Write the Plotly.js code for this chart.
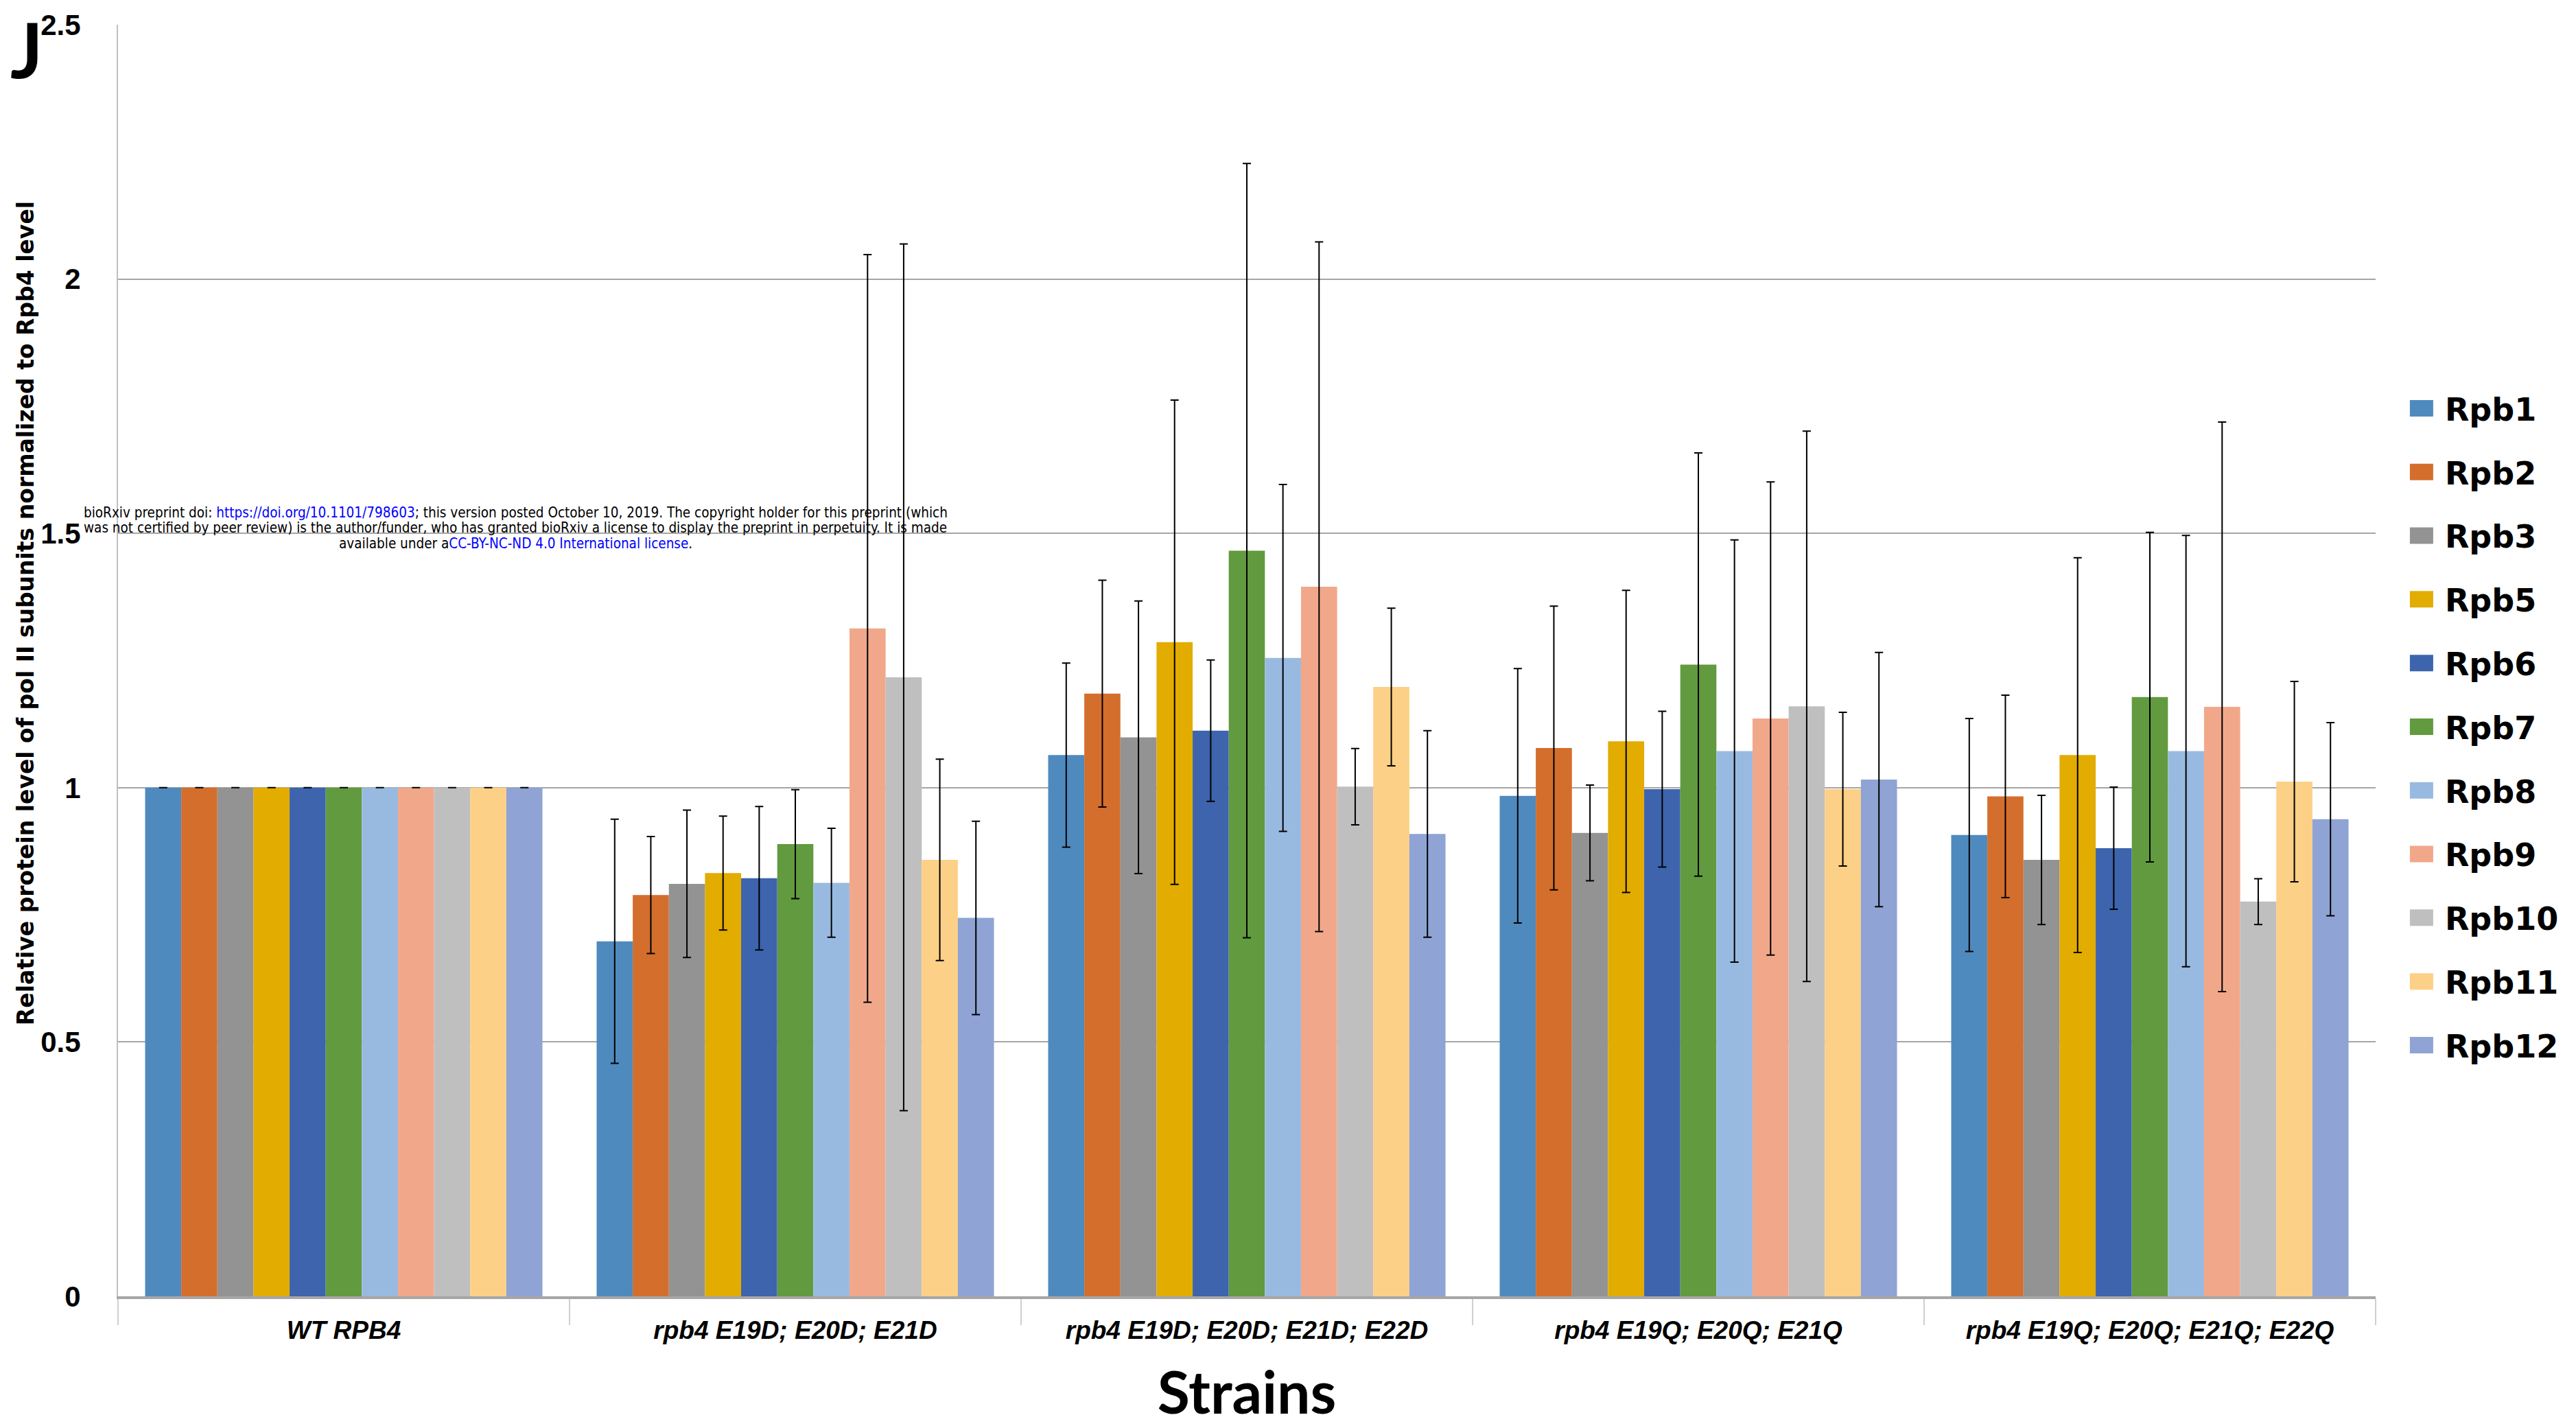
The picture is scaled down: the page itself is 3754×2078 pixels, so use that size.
<!DOCTYPE html>
<html>
<head>
<meta charset="utf-8">
<script src="https://cdn.plot.ly/plotly-3.0.1.min.js"></script>
<style>
  html, body { margin: 0; padding: 0; background: #ffffff; }
  #chart { width: 3754px; height: 2078px; }
</style>
</head>
<body>
<div id="chart"></div>
<script>
// ---- data ----
const categories = ["WT RPB4", "rpb4 E19D; E20D; E21D", "rpb4 E19D; E20D; E21D; E22D", "rpb4 E19Q; E20Q; E21Q", "rpb4 E19Q; E20Q; E21Q; E22Q"];
const subunits = ["Rpb1", "Rpb2", "Rpb3", "Rpb5", "Rpb6", "Rpb7", "Rpb8", "Rpb9", "Rpb10", "Rpb11", "Rpb12"];

const rpb1  = [1, 0.698, 1.064, 0.984, 0.907];
const rpb2  = [1, 0.789, 1.185, 1.078, 0.983];
const rpb3  = [1, 0.811, 1.099, 0.911, 0.858];
const rpb5  = [1, 0.832, 1.286, 1.091, 1.064];
const rpb6  = [1, 0.822, 1.112, 0.997, 0.881];
const rpb7  = [1, 0.889, 1.466, 1.242, 1.178];
const rpb8  = [1, 0.813, 1.255, 1.072, 1.072];
const rpb9  = [1, 1.313, 1.395, 1.136, 1.159];
const rpb10 = [1, 1.217, 1.002, 1.160, 0.776];
const rpb11 = [1, 0.858, 1.198, 0.997, 1.012];
const rpb12 = [1, 0.744, 0.909, 1.016, 0.938];

const rpb1Err  = [0, 0.240, 0.181, 0.250, 0.229];
const rpb2Err  = [0, 0.115, 0.223, 0.279, 0.199];
const rpb3Err  = [0, 0.145, 0.268, 0.094, 0.127];
const rpb5Err  = [0, 0.112, 0.476, 0.297, 0.388];
const rpb6Err  = [0, 0.141, 0.139, 0.153, 0.120];
const rpb7Err  = [0, 0.107, 0.761, 0.416, 0.324];
const rpb8Err  = [0, 0.107, 0.341, 0.415, 0.424];
const rpb9Err  = [0, 0.735, 0.678, 0.465, 0.560];
const rpb10Err = [0, 0.852, 0.075, 0.541, 0.045];
const rpb11Err = [0, 0.198, 0.155, 0.151, 0.197];
const rpb12Err = [0, 0.190, 0.203, 0.250, 0.190];

const yTickVals = [0, 0.5, 1, 1.5, 2, 2.5];
const yTickText = ["0", "0.5", "1", "1.5", "2", "2.5"];

// ---- styling ----
const colors = ["#4F8ABE", "#D46E2C", "#939393", "#E2AC00", "#3D64AD", "#629A3F",
                "#99BAE0", "#F1A88A", "#BFBFBF", "#FDD087", "#8FA3D4"];

const values = [rpb1, rpb2, rpb3, rpb5, rpb6, rpb7, rpb8, rpb9, rpb10, rpb11, rpb12];
const errors = [rpb1Err, rpb2Err, rpb3Err, rpb5Err, rpb6Err, rpb7Err, rpb8Err, rpb9Err, rpb10Err, rpb11Err, rpb12Err];

const traces = subunits.map((name, i) => ({
  type: "bar",
  name: name,
  x: categories,
  y: values[i],
  legendgroup: name,
  marker: { color: colors[i], line: { width: 0 } },
  error_y: { type: "data", array: errors[i], visible: true, color: "#000000", thickness: 2, width: 6 },
  hoverinfo: "x+y+name"
}));

const arial = "'Liberation Sans', Arial, sans-serif";
const condensed = "'DejaVu Sans Condensed', 'Liberation Sans', sans-serif";
const wide = "'DejaVu Sans', Verdana, sans-serif";
const lato = "Lato, 'Open Sans', sans-serif";

const layout = {
  width: 3754,
  height: 2078,
  paper_bgcolor: "#ffffff",
  plot_bgcolor: "#ffffff",
  margin: { l: 172, r: 292, t: 36, b: 189, pad: 0 },
  barmode: "group",
  bargap: 0.12,
  bargroupgap: 0,
  showlegend: true,
  legend: {
    x: 1.010, xanchor: "left",
    y: 0.718, yanchor: "top",
    font: { family: wide, size: 46, color: "#000000", weight: "bold" },
    tracegroupgap: 30,
    itemwidth: 58,
    bgcolor: "rgba(0,0,0,0)",
    traceorder: "grouped"
  },
  xaxis: {
    type: "category",
    showgrid: false,
    showline: true,
    linecolor: "#A6A6A6",
    linewidth: 4,
    ticks: "outside",
    tickson: "boundaries",
    ticklen: 38,
    tickwidth: 2,
    tickcolor: "#D0D0D0",
    ticklabelstandoff: 14,
    tickfont: { family: arial, size: 37, color: "#000000", weight: "bold", style: "italic" },
    title: { text: "Strains", font: { family: lato, size: 86, color: "#000000", weight: "bold" }, standoff: 52 },
    zeroline: false
  },
  yaxis: {
    range: [0, 2.5],
    tickvals: yTickVals,
    ticktext: yTickText,
    showgrid: true,
    gridcolor: "#A6A6A6",
    gridwidth: 2,
    showline: true,
    linecolor: "#BFBFBF",
    linewidth: 2,
    ticks: "",
    ticklabelstandoff: 44,
    zeroline: false,
    tickfont: { family: arial, size: 42, color: "#000000", weight: "bold" },
    title: {
      text: "<span style='fill:rgba(0,0,0,0)'>...........</span>Relative protein level of pol II subunits normalized to Rpb4 level",
      font: { family: wide, size: 33, color: "#000000", weight: "bold" },
      standoff: 0
    }
  },
  annotations: [
    { xref: "paper", yref: "paper", x: -0.0403, y: 1.0178, xanchor: "center", yanchor: "top",
      text: "J", showarrow: false, borderpad: 0,
      font: { family: lato, size: 111, color: "#000000", weight: "bold" } },
    { xref: "paper", yref: "paper", x: 0.176, y: 0.6165, xanchor: "center", yanchor: "middle", showarrow: false,
      text: "bioRxiv preprint doi: <span style='color:#0000FF'>https://doi.org/10.1101/798603</span>; this version posted October 10, 2019. The copyright holder for this preprint (which",
      font: { family: condensed, size: 20.5, color: "#000000" } },
    { xref: "paper", yref: "paper", x: 0.176, y: 0.6043, xanchor: "center", yanchor: "middle", showarrow: false,
      text: "was not certified by peer review) is the author/funder, who has granted bioRxiv a license to display the preprint in perpetuity. It is made",
      font: { family: condensed, size: 20.5, color: "#000000" } },
    { xref: "paper", yref: "paper", x: 0.176, y: 0.5921, xanchor: "center", yanchor: "middle", showarrow: false,
      text: "available under a<span style='color:#0000FF'>CC-BY-NC-ND 4.0 International license</span>.",
      font: { family: condensed, size: 20.5, color: "#000000" } }
  ]
};

Plotly.newPlot("chart", traces, layout, { displayModeBar: false, staticPlot: true }).then(function () {
  // enlarge legend swatches to match the reference
  document.querySelectorAll("g.legendpoints path").forEach(function (p) {
    p.setAttribute("d", "M17,12H-17V-12H17Z");
  });
});
</script>
</body>
</html>
